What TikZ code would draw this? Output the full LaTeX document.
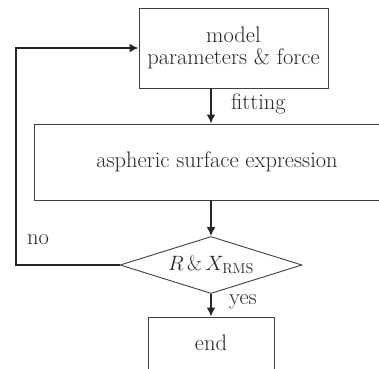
\documentclass[tikz,border=0pt]{standalone}
\usetikzlibrary{shapes.geometric,arrows.meta}
\begin{document}
\begin{tikzpicture}[x=1pt,y=-1pt,
  box/.style={draw=black!75,line width=0.9pt,inner sep=0pt,align=center,text=black!85,font=\fontsize{22.5}{22}\selectfont},
  arr/.style={line width=2.3pt,draw=black!85,-{Latex[length=9pt,width=9pt]}},
  lbl/.style={font=\fontsize{22.5}{22}\selectfont,inner sep=0pt,text=black!85}]
\useasboundingbox (0,0) rectangle (379,368);
\clip (0,0) rectangle (379,368);
\node[box,minimum width=189pt,minimum height=80pt] (b1) at (233.5,48) {model\\parameters \& force};
\node[box,minimum width=366pt,minimum height=76pt] (b2) at (217,162) {aspheric surface expression};
\node[box,shape=diamond,minimum width=182pt,minimum height=57pt,aspect=3.2] (d) at (211,265) {$R\,\&\,X_{\mathrm{RMS}}$};
\node[box,minimum width=126pt,minimum height=52pt] (e) at (211,343) {end};
\coordinate (c1) at (16,265);
\coordinate (c2) at (16,48);
\draw[arr] (b1.south -| d.north) -- (b2.north -| d.north);
\draw[arr] (b2.south -| d.north) -- (d.north);
\draw[arr] (d.south) -- (e.north);
\draw[arr] (d.west) -- (c1) -- (c2) -- (b1.west);
\node[lbl,anchor=west] (lf) at (231,104) {fitting};
\node[lbl,anchor=west] (ln) at (27,240) {no};
\node[lbl,anchor=west] (ly) at (229,302) {yes};
\end{tikzpicture}
\end{document}
